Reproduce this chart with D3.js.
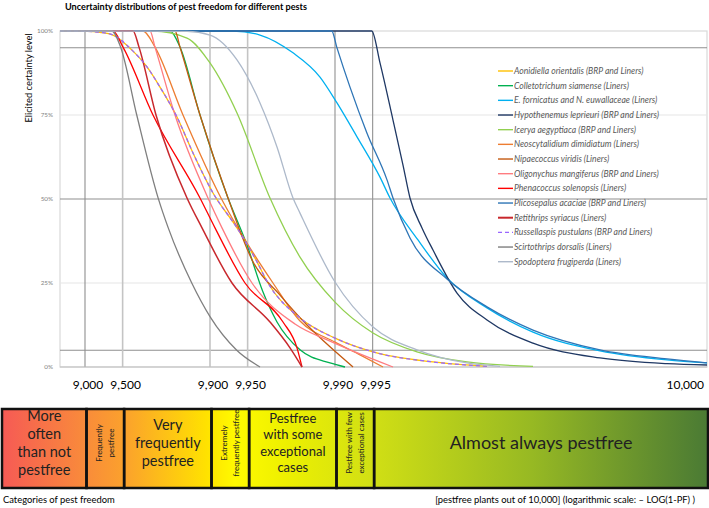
<!DOCTYPE html>
<html><head><meta charset="utf-8">
<script src="https://cdn.jsdelivr.net/npm/d3@7"></script>
<style>body{margin:0;background:#fff;} svg{display:block;font-family:Lato,"Open Sans",sans-serif;}</style>
</head><body><svg id="c" width="709" height="508"></svg>
<script>
// ---------- DATA ----------
// x values are -LOG10(1-PF); y values are elicited certainty level (%)
const seriesNames = [
  "Aonidiella orientalis (BRP and Liners)",
  "Colletotrichum siamense (Liners)",
  "E. fornicatus and N. euwallaceae  (Liners)",
  "Hypothenemus leprieuri (BRP and Liners)",
  "Icerya aegyptiaca (BRP and Liners)",
  "Neoscytalidium dimidiatum (Liners)",
  "Nipaecoccus viridis (Liners)",
  "Oligonychus mangiferus (BRP and Liners)",
  "Phenacoccus solenopsis (Liners)",
  "Plicosepalus acaciae (BRP and Liners)",
  "Retithrips syriacus (Liners)",
  "Russellaspis pustulans (BRP and Liners)",
  "Scirtothrips dorsalis (Liners)",
  "Spodoptera frugiperda (Liners)"
];
const aonidiellaX = [0.8,1.016,1.12,1.224,1.376,1.496,1.6,1.736,1.864,2.024,2.216,2.376,2.464,2.72,3.0,3.304,3.784,4.216];
const aonidiellaY = [100,99.9,99.6,98.8,94.3,89.3,83.3,74.4,63.7,51.8,41.4,31.3,25,14.6,8.6,4.5,1.5,0.2];
const colletotrichumX = [0.8,1.68,1.76,1.92,2.144,2.296,2.424,2.536,2.72,2.96,3.08];
const colletotrichumY = [100,100,95.2,75,50.3,36.3,22.3,13.4,5.1,1.2,0];
const fornicatusX = [0.8,2.184,2.4,2.664,2.88,3.016,3.176,3.36,3.44,3.664,3.896,4.216,4.584,5.12,5.656,5.976];
const fornicatusY = [100,100,98.8,93.5,86.3,78.6,68.5,56.5,50.3,37.8,26.5,17.6,10.4,4.8,2.1,1.2];
const hypothenemusX = [0.8,3.294,3.36,3.464,3.544,3.6,3.696,3.784,3.976,4.216,4.584,5.12,5.656,5.976];
const hypothenemusY = [100,100,90.5,73.5,60.1,50.3,41.4,34.8,22.0,14.0,7.1,2.7,1.0,0.6];
const iceryaX = [0.8,1.544,1.816,2.0,2.216,2.48,2.72,3.0,3.304,3.656,4.056,4.584];
const iceryaY = [100,100,97.9,90.5,75.6,50.3,32.7,19.3,10.1,4.5,1.5,0.2];
const neoscytalidiumX = [0.8,1.464,1.56,1.784,2.088,2.296,2.504,2.72,3.0,3.2,3.384];
const neoscytalidiumY = [100,100,95.2,75,50.3,36.9,25,13.7,7.4,3.6,0];
const nipaecoccusX = [0.8,1.72,1.76,1.92,2.144,2.344,2.56,2.776,2.96,3.144];
const nipaecoccusY = [100,100,95.2,75,50.3,31.3,21.4,12.5,6.0,0];
const oligonychusX = [0.8,1.52,1.56,1.72,1.984,2.096,2.336,2.68,2.96,3.16,3.464];
const oligonychusY = [100,100,95.2,75,50.3,41.4,25,12.8,7.7,4.5,0];
const phenacoccusX = [0.8,1.224,1.304,1.544,1.92,2.04,2.28,2.584,2.696,2.736];
const phenacoccusY = [100,100,95.2,75,50.3,41.4,25,13.4,5.7,0];
const plicosepalusX = [0.8,2.974,3.014,3.12,3.256,3.416,3.464,3.6,3.896,4.216,4.584,5.12,5.656,5.976];
const plicosepalusY = [100,100,95.2,83.3,69.6,55.7,50.3,38.4,26.2,17.9,11.0,5.1,2.4,1.2];
const retithripsX = [0.8,1.384,1.432,1.568,1.816,1.936,2.176,2.48,2.64,2.736];
const retithripsY = [100,100,95.2,75,50.3,41.4,25,13.4,5.7,0];
const russellaspisX = [0.8,1.016,1.12,1.224,1.376,1.496,1.6,1.736,1.864,2.024,2.216,2.376,2.464,2.72,3.0,3.304,3.784,4.216];
const russellaspisY = [100,99.9,99.6,98.8,94.3,89.3,83.3,74.4,63.7,51.8,41.4,31.3,25,14.6,8.6,4.5,1.5,0.2];
const scirtothripsX = [0.8,1.214,1.286,1.414,1.586,1.666,1.854,2.0,2.214,2.4];
const scirtothripsY = [100,100,95.1,75,50.2,41.4,25,15,5,0];
const spodopteraX = [0.8,1.816,2.0,2.216,2.4,2.536,2.664,2.72,3.0,3.304,3.656,4.056,4.32];
const spodopteraY = [100,99.9,98.8,91.4,78.6,65.5,50.3,45.8,25.3,11.9,5.1,1.2,0.2];

const seriesX = [aonidiellaX,colletotrichumX,fornicatusX,hypothenemusX,iceryaX,neoscytalidiumX,nipaecoccusX,oligonychusX,phenacoccusX,plicosepalusX,retithripsX,russellaspisX,scirtothripsX,spodopteraX];
const seriesY = [aonidiellaY,colletotrichumY,fornicatusY,hypothenemusY,iceryaY,neoscytalidiumY,nipaecoccusY,oligonychusY,phenacoccusY,plicosepalusY,retithripsY,russellaspisY,scirtothripsY,spodopteraY];

const tickValues = [9000,9500,9900,9950,9990,9995,10000];   // pestfree plants out of 10,000
const tickLabels = ["9,000","9,500","9,900","9,950","9,990","9,995","10,000"];
const yTickValues = [0,25,50,75,100];
const yTickLabels = ["0%","25%","50%","75%","100%"];
const refLevels = [95,50,5];
const categoryLines = [
  ["More","often","than not","pestfree"],
  ["Frequently","pestfree"],
  ["Very","frequently","pestfree"],
  ["Extremely","frequently pestfree"],
  ["Pestfree","with some","exceptional","cases"],
  ["Pestfree with few","exceptional cases"],
  ["Almost always pestfree"]
];

// ---------- STYLES ----------
const colors = ["#FFC000","#00B050","#00B0F0","#1F3864","#92D050","#ED7D31","#C55A11","#FF7C80","#FF0000","#2E75B6","#C8282D","#9966FF","#7F7F7F","#ADB9CA"];
const dashes = [null,null,null,null,null,null,null,null,null,null,null,"4,3",null,null];
const catFont = [14.5,8,14.5,8,13,8,18];

// ---------- CHART ----------
const svg = d3.select("#c");
const L = v => v >= 10000 ? 5.976 : -Math.log10(1 - v/10000);
const x = d3.scaleLinear().domain([0.8, 5.976]).range([60, 707]);
const y = d3.scaleLinear().domain([0, 100]).range([367, 31]);

svg.append("text").attr("x",65).attr("y",10).attr("font-weight","bold").attr("font-size",9.1).text("Uncertainty distributions of pest freedom for different pests");
svg.append("text").attr("transform","translate(32,78) rotate(-90)").attr("text-anchor","middle").attr("font-size",9.3).text("Elicited certainty level");

const g = svg.append("g");
g.append("rect").attr("x",60).attr("y",31).attr("width",647).attr("height",336).attr("fill","none").attr("stroke","#d9d9d9").attr("stroke-width",1.2);
g.selectAll(".lg").data([25,75]).join("line").attr("x1",60).attr("x2",707).attr("y1",d=>y(d)).attr("y2",d=>y(d)).attr("stroke","#e6e6e6").attr("stroke-width",1.2);
g.selectAll(".yt").data(yTickValues).join("text").attr("x",53).attr("y",d=>y(d)+2.2).attr("text-anchor","end").attr("font-size",6.3).attr("fill","#7f7f7f").text((d,i)=>yTickLabels[i]);
g.selectAll(".rh").data(refLevels).join("line").attr("x1",60).attr("x2",707).attr("y1",d=>y(d)).attr("y2",d=>y(d)).attr("stroke","#8f8f8f").attr("stroke-width",1.1);
const vStyle = [["#8f8f8f",1.1],["#c4c4c4",1.6],["#c4c4c4",1.6],["#c4c4c4",1.6],["#9a9a9a",1.2],["#9a9a9a",1.2]];
g.selectAll(".vl").data(tickValues.slice(0,6)).join("line").attr("x1",d=>x(L(d))).attr("x2",d=>x(L(d))).attr("y1",31).attr("y2",367).attr("stroke",(d,i)=>vStyle[i][0]).attr("stroke-width",(d,i)=>vStyle[i][1]);
g.append("line").attr("x1",60).attr("x2",707).attr("y1",367).attr("y2",367).attr("stroke","#bfbfbf").attr("stroke-width",1);

const line = d3.line().x(d=>x(d[0])).y(d=>y(d[1])).curve(d3.curveMonotoneX);
seriesNames.forEach((n,i)=>{
  const pts = seriesX[i].map((v,j)=>[v, seriesY[i][j]]);
  g.append("path").attr("d",line(pts)).attr("fill","none").attr("stroke",colors[i])
    .attr("stroke-width", i===10?1.5:1.3).attr("stroke-dasharray",dashes[i]);
});

const lg = svg.append("g");
seriesNames.forEach((n,i)=>{
  const yy = 71 + i*14.67;
  lg.append("line").attr("x1",498).attr("x2",513).attr("y1",yy).attr("y2",yy).attr("stroke",colors[i]).attr("stroke-width", i===10?2:1.4).attr("stroke-dasharray",dashes[i]);
  lg.append("text").attr("x",514).attr("y",yy+2.9).attr("font-size",8.6).attr("font-style","italic").attr("fill","#595959").text(n);
});

svg.selectAll(".xt").data(tickValues).join("text")
  .attr("x",(d,i)=> i===6 ? 704 : x(L(d))+3)
  .attr("y",389).attr("text-anchor",(d,i)=> i===6?"end":"middle").attr("font-size",12).text((d,i)=>tickLabels[i]);

const defs = svg.append("defs");
const grad = defs.append("linearGradient").attr("id","gr").attr("gradientUnits","userSpaceOnUse").attr("x1",2).attr("x2",708).attr("y1",0).attr("y2",0);
[[0,"#F65A55"],[0.12,"#F98C3A"],[0.175,"#FBA22C"],[0.29,"#FFE200"],[0.33,"#FFFA00"],[0.4,"#EEF000"],[0.52,"#D2E014"],[0.75,"#97B923"],[1,"#4A7A34"]]
  .forEach(s=>grad.append("stop").attr("offset",s[0]).attr("stop-color",s[1]));
const edges = [2].concat(tickValues.slice(0,6).map(v=>x(L(v))+1.5)).concat([708]);
const boxTop = 409, boxBot = 488;
svg.append("rect").attr("x",edges[0]).attr("y",boxTop).attr("width",edges[7]-edges[0]).attr("height",boxBot-boxTop).attr("fill","url(#gr)");
categoryLines.forEach((lines,i)=>{
  const x0 = edges[i], x1 = edges[i+1];
  svg.append("rect").attr("x",x0).attr("y",boxTop).attr("width",x1-x0).attr("height",boxBot-boxTop).attr("fill","none").attr("stroke","#111").attr("stroke-width",2.5);
  const cx = (x0+x1)/2, cy = 443, fs = catFont[i];
  const rotated = (x1-x0) < 50;
  const lh = rotated ? fs*1.45 : fs*1.25;
  if (rotated) {
    const t = svg.append("text").attr("transform",`translate(${cx},${cy}) rotate(-90)`).attr("text-anchor","middle").attr("font-size",fs).attr("fill","#222");
    lines.forEach((s,j)=> t.append("tspan").attr("x",0).attr("y", (j-(lines.length-1)/2)*lh + fs*0.35).text(s));
  } else {
    const t = svg.append("text").attr("text-anchor","middle").attr("font-size",fs).attr("fill","#222");
    lines.forEach((s,j)=> t.append("tspan").attr("x",cx).attr("y", cy + (j-(lines.length-1)/2)*lh + fs*0.35).text(s));
  }
});

svg.append("text").attr("x",3).attr("y",503).attr("font-size",9.4).text("Categories of pest freedom");
svg.append("text").attr("x",695).attr("y",503).attr("text-anchor","end").attr("font-size",9.4).text("[pestfree plants out of 10,000] (logarithmic scale: \u2013 LOG(1-PF) )");
</script></body></html>
